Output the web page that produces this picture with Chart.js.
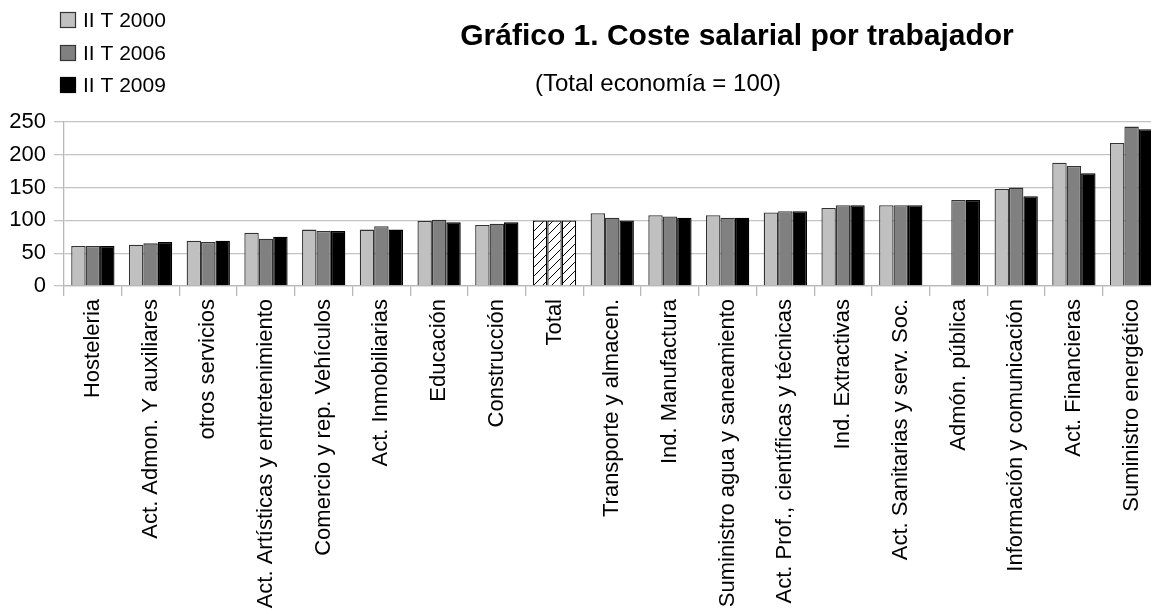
<!DOCTYPE html>
<html>
<head>
<meta charset="utf-8">
<script src="https://cdn.jsdelivr.net/npm/chart.js@4"></script>
<style>
  html, body { margin: 0; padding: 0; background: #ffffff; overflow: hidden; width: 1151px; height: 610px; }
  #wrap { position: absolute; left: 0; top: 0; width: 1161px; height: 610px; }
</style>
</head>
<body>
<div id="wrap"><canvas id="c" width="1161" height="610"></canvas></div>
<script>
const categories = [
  'Hosteleria', 'Act. Admon. Y auxiliares', 'otros servicios', 'Act. Artísticas y entretenimiento',
  'Comercio y rep. Vehículos', 'Act. Inmobiliarias', 'Educación', 'Construcción', 'Total',
  'Transporte y almacen.', 'Ind. Manufactura', 'Suministro agua y saneamiento',
  'Act. Prof., científicas y técnicas', 'Ind. Extractivas', 'Act. Sanitarias y serv. Soc.',
  'Admón. pública', 'Información y comunicación', 'Act. Financieras', 'Suministro energético'
];
const seriesNames = ['II T 2000', 'II T 2006', 'II T 2009'];
const values2000 = [61, 63, 69, 81, 86, 86, 99, 93, 100, 111, 108, 108, 112, 119, 123, null, 148, 188, 218];
const values2006 = [61, 65, 67, 72, 84, 91, 101, 95, 100, 104, 106, 104, 114, 123, 123, 131, 150, 183, 243];
const values2009 = [61, 67, 69, 75, 84, 86, 97, 97, 100, 100, 104, 104, 114, 123, 123, 131, 137, 172, 239];
const yTicks = [0, 50, 100, 150, 200, 250];
const titleText = 'Gráfico 1. Coste salarial por trabajador';
const subtitleText = '(Total economía = 100)';

const FONT = '"Liberation Sans", Arial, sans-serif';
const fills = ['#c0c0c0', '#808080', '#000000'];
const borders = ['#333333', '#333333', '#000000'];
const totalIndex = categories.indexOf('Total');

// hatch pattern for the Total bars
const pc = document.createElement('canvas');
pc.width = 9; pc.height = 9;
const pctx = pc.getContext('2d');
pctx.fillStyle = '#ffffff';
pctx.fillRect(0, 0, 9, 9);
pctx.strokeStyle = '#000000';
pctx.lineWidth = 1;
pctx.beginPath();
pctx.moveTo(-1, 10); pctx.lineTo(10, -1);
pctx.stroke();
const hatch = pctx.createPattern(pc, 'repeat');

const allSeries = [values2000, values2006, values2009];
const datasets = allSeries.map((vals, i) => ({
  label: seriesNames[i],
  data: vals,
  backgroundColor: (ctx) => ctx.dataIndex === totalIndex ? hatch : fills[i],
  borderColor: (ctx) => ctx.dataIndex === totalIndex ? '#000000' : borders[i],
  borderWidth: 1.3,
  barPercentage: 1.0,
  categoryPercentage: 0.75
}));

const decorPlugin = {
  id: 'decor',
  afterDraw(chart) {
    const ctx = chart.ctx;
    ctx.save();
    // title
    ctx.fillStyle = '#000000';
    ctx.textAlign = 'center';
    ctx.textBaseline = 'alphabetic';
    ctx.font = 'bold 30px ' + FONT;
    ctx.fillText(titleText, 737, 45);
    ctx.font = '24px ' + FONT;
    ctx.fillText(subtitleText, 658, 91);
    // legend
    const ys = [12, 45, 77];
    chart.data.datasets.forEach((ds, i) => {
      ctx.fillStyle = fills[i];
      ctx.fillRect(60, ys[i], 16, 16);
      ctx.strokeStyle = borders[i];
      ctx.lineWidth = 1.2;
      ctx.strokeRect(60.5, ys[i] + 0.5, 15, 15);
      ctx.fillStyle = '#000000';
      ctx.textAlign = 'left';
      ctx.textBaseline = 'middle';
      ctx.font = '21px ' + FONT;
      ctx.fillText(ds.label, 83, ys[i] + 9);
    });
    ctx.restore();
  }
};

new Chart(document.getElementById('c'), {
  type: 'bar',
  data: { labels: categories, datasets: datasets },
  options: {
    responsive: false,
    animation: false,
    devicePixelRatio: 1,
    layout: { padding: { top: 122, left: 0, right: 0, bottom: 0 } },
    plugins: { legend: { display: false }, title: { display: false }, tooltip: { enabled: false } },
    scales: {
      x: {
        offset: true,
        grid: { offset: true, drawOnChartArea: false, color: '#b8b8b8', lineWidth: 1.3, tickLength: 10 },
        border: { color: '#b8b8b8', width: 1.3 },
        ticks: {
          color: '#000000', font: { family: FONT, size: 22 },
          minRotation: 90, maxRotation: 90, autoSkip: false, padding: 3
        },
        afterFit: (scale) => { scale.height = 324; }
      },
      y: {
        min: 0, max: 250,
        afterBuildTicks: (scale) => { scale.ticks = yTicks.map(v => ({ value: v })); },
        grid: { color: '#c4c4c4', lineWidth: 1.3, tickLength: 10 },
        border: { color: '#b8b8b8', width: 1.3 },
        ticks: { color: '#000000', font: { family: FONT, size: 22 }, padding: 8 },
        afterFit: (scale) => { scale.width = 64; }
      }
    }
  },
  plugins: [decorPlugin]
});
</script>
</body>
</html>
